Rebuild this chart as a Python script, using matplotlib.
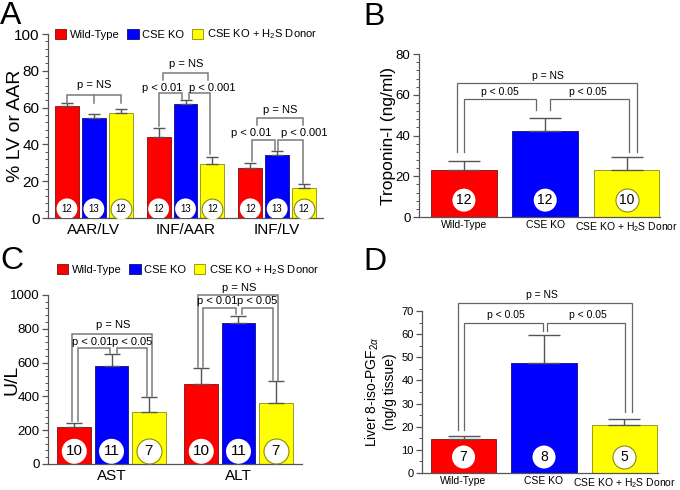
import matplotlib
matplotlib.use("Agg")
import matplotlib.pyplot as plt
from matplotlib.patches import Patch
from matplotlib.ticker import AutoMinorLocator, MultipleLocator
import numpy as np

plt.rcParams['font.family'] = ['Liberation Sans', 'DejaVu Sans']
plt.rcParams['mathtext.fontset'] = 'custom'
plt.rcParams['mathtext.rm'] = 'Liberation Sans'
plt.rcParams['mathtext.it'] = 'Liberation Sans:italic'

# ---------------- data ----------------
groups = ["Wild-Type", "CSE KO", "CSE KO + H$_2$S Donor"]

# Panel A
a_categories = ["AAR/LV", "INF/AAR", "INF/LV"]
a_wt = [61.1, 44.2, 27.0]
a_ko = [54.2, 62.0, 34.2]
a_donor = [57.2, 29.2, 16.1]
a_wt_err = [1.2, 5.0, 3.1]
a_ko_err = [2.1, 2.1, 2.2]
a_donor_err = [2.0, 4.1, 2.2]
a_n = [[12, 13, 12], [12, 13, 12], [12, 13, 12]]

# Panel B
b_values = [23.0, 42.4, 23.0]
b_err = [4.5, 6.1, 6.4]
b_n = [12, 12, 10]

# Panel C
c_categories = ["AST", "ALT"]
c_wt = [216, 474]
c_ko = [577, 833]
c_donor = [307, 358]
c_wt_err = [26, 93]
c_ko_err = [73, 45]
c_donor_err = [89, 130]
c_n = [[10, 11, 7], [10, 11, 7]]

# Panel D
d_values = [14.6, 47.6, 20.6]
d_err = [1.4, 12.0, 2.8]
d_n = [7, 8, 5]

colors = ["#FF0000", "#0000FF", "#FFFF00"]
edges = ["#7a1010", "#10107a", "#8a8a10"]
circ_edges = ["none", "none", "#8a8a10"]
err_col = "#555555"
br_col = "#7a7a7a"
spine_col = "#555555"

fig = plt.figure(figsize=(6.8, 4.9), dpi=100)


def style_axes(ax):
    for s in ("top", "right"):
        ax.spines[s].set_visible(False)
    for s in ("left", "bottom"):
        ax.spines[s].set_color(spine_col)
        ax.spines[s].set_linewidth(0.9)
    ax.tick_params(axis='x', length=0)
    ax.tick_params(axis='y', which='major', length=4, width=0.9, color=spine_col, pad=2)
    ax.tick_params(axis='y', which='minor', length=2.2, width=0.7, color=spine_col)


def bracket(ax, x1, x2, y, y1, y2, lw=1.1, col=br_col):
    ax.plot([x1, x1, x2, x2], [y1, y, y, y2], color=col, lw=lw, clip_on=False,
            solid_joinstyle='miter', zorder=4)


def ptext(ax, x, y, s, fs):
    ax.text(x, y, s, ha='center', va='center', fontsize=fs, clip_on=False, zorder=5)


def circles(ax, xs, y, ns, size, fs):
    for i, (x, n) in enumerate(zip(xs, ns)):
        ax.scatter([x], [y], s=size, c='white', edgecolors=circ_edges[i % 3],
                   linewidths=0.8, zorder=6)
        ax.text(x, y, str(n), ha='center', va='center', fontsize=fs, zorder=7)


# ---------------- Panel A ----------------
axA = fig.add_axes([0.0706, 0.555, 0.4044, 0.3755])
xa = np.arange(len(a_categories))
off, w = 0.293, 0.26
series_a = [(a_wt, a_wt_err), (a_ko, a_ko_err), (a_donor, a_donor_err)]
for i, (vals, errs) in enumerate(series_a):
    xs = xa + (i - 1) * off
    axA.bar(xs, vals, w, color=colors[i], edgecolor=edges[i], linewidth=0.6, zorder=2)
    axA.errorbar(xs, vals, yerr=[np.zeros(len(vals)), errs], fmt='none',
                 ecolor=err_col, elinewidth=1.0, capsize=4.3, capthick=1.0, zorder=3)
for g in range(len(a_categories)):
    circles(axA, [g - off, g, g + off], 5, a_n[g], 225, 7)
axA.set_xlim(-0.5, 2.5)
axA.set_ylim(0, 100)
axA.yaxis.set_major_locator(MultipleLocator(20))
axA.yaxis.set_minor_locator(AutoMinorLocator(5))
axA.set_xticks(xa)
axA.set_xticklabels(a_categories, fontsize=11)
axA.tick_params(axis='y', labelsize=11)
axA.set_ylabel("% LV or AAR", fontsize=14)
axA.yaxis.set_label_coords(-0.087, 0.5)
style_axes(axA)
# brackets A
bracket(axA, -0.293, 0.293, 66.8, 62.7, 62.5)
axA.plot([0, 0], [66.8, 62.3], color=br_col, lw=1.1, zorder=4)
ptext(axA, 0, 72.3, "p = NS", 8)
bracket(axA, 1 - 0.293, 1 - 0.033, 67.8, 50.3, 64.6)
bracket(axA, 1 + 0.043, 1 + 0.27, 67.8, 64.6, 34.6)
bracket(axA, 1 - 0.25, 1 + 0.25, 79.0, 75.0, 75.0)
ptext(axA, 1 - 0.25, 70.8, "p < 0.01", 8)
ptext(axA, 1 + 0.29, 70.8, "p < 0.001", 8)
ptext(axA, 1.01, 83.7, "p = NS", 8)
bracket(axA, 2 - 0.27, 2 - 0.02, 42.4, 31.2, 37.2)
bracket(axA, 2 + 0.01, 2 + 0.283, 42.4, 37.2, 19.3)
bracket(axA, 2 - 0.217, 2 + 0.283, 54.2, 50.5, 50.5)
ptext(axA, 2 - 0.28, 46.3, "p < 0.01", 8)
ptext(axA, 2 + 0.29, 46.3, "p < 0.001", 8)
ptext(axA, 2.03, 58.7, "p = NS", 8)
handles = [Patch(facecolor=colors[i], edgecolor=edges[i], linewidth=0.6) for i in range(3)]
axA.legend(handles, groups, ncol=3, loc='upper left', bbox_to_anchor=(0.025, 1.035),
           frameon=False, fontsize=8, handlelength=1.0, handleheight=1.0,
           handletextpad=0.35, columnspacing=0.7, borderaxespad=0, borderpad=0)

# ---------------- Panel B ----------------
axB = fig.add_axes([0.616, 0.557, 0.3544, 0.3327])
xb = np.arange(3)
axB.bar(xb, b_values, 0.81, color=colors, edgecolor=edges, linewidth=0.6, zorder=2)
axB.errorbar(xb, b_values, yerr=[np.zeros(3), b_err], fmt='none', ecolor=err_col,
             elinewidth=1.0, capsize=11.5, capthick=1.0, zorder=3)
circles(axB, xb, 8.3, b_n, 275, 10)
axB.set_xlim(-0.554, 2.41)
axB.set_ylim(0, 80)
axB.yaxis.set_major_locator(MultipleLocator(20))
axB.yaxis.set_minor_locator(AutoMinorLocator(5))
axB.set_xticks(xb)
axB.set_xticklabels(groups, fontsize=7.5)
axB.tick_params(axis='x', pad=2)
axB.tick_params(axis='y', labelsize=9.5)
axB.set_ylabel("Troponin-I (ng/ml)", fontsize=12.5)
axB.yaxis.set_label_coords(-0.095, 0.5)
style_axes(axB)
bracket(axB, -0.086, 2.13, 65.8, 32, 32, lw=0.9, col="#666666")
bracket(axB, 0.0, 0.886, 58, 32, 52.5, lw=0.9, col="#666666")
bracket(axB, 1.06, 2.03, 58, 52.5, 32, lw=0.9, col="#666666")
ptext(axB, 1.03, 69.2, "p = NS", 7.5)
ptext(axB, 0.44, 61.5, "p < 0.05", 7.5)
ptext(axB, 1.53, 61.5, "p < 0.05", 7.5)

# ---------------- Panel C ----------------
axC = fig.add_axes([0.0706, 0.0531, 0.3735, 0.345])
xc = np.arange(len(c_categories))
series_c = [(c_wt, c_wt_err), (c_ko, c_ko_err), (c_donor, c_donor_err)]
for i, (vals, errs) in enumerate(series_c):
    xs = xc + (i - 1) * off
    axC.bar(xs, vals, 0.265, color=colors[i], edgecolor=edges[i], linewidth=0.6, zorder=2)
    axC.errorbar(xs, vals, yerr=[np.zeros(len(vals)), errs], fmt='none',
                 ecolor=err_col, elinewidth=1.0, capsize=6, capthick=1.0, zorder=3)
for g in range(len(c_categories)):
    circles(axC, [g - off, g, g + off], 75, c_n[g], 324, 11)
axC.set_xlim(-0.5, 1.5)
axC.set_ylim(0, 1000)
axC.yaxis.set_major_locator(MultipleLocator(200))
axC.yaxis.set_minor_locator(AutoMinorLocator(5))
axC.set_xticks(xc)
axC.set_xticklabels(c_categories, fontsize=11)
axC.tick_params(axis='y', labelsize=9.5)
axC.set_ylabel("U/L", fontsize=14)
axC.yaxis.set_label_coords(-0.11, 0.5)
style_axes(axC)
bracket(axC, -0.309, 0.316, 768, 252, 402)
bracket(axC, -0.26, -0.012, 689, 252, 655)
bracket(axC, 0.043, 0.277, 689, 655, 402)
ptext(axC, 0.012, 823, "p = NS", 8)
ptext(axC, -0.15, 724, "p < 0.01", 8)
ptext(axC, 0.165, 724, "p < 0.05", 8)
bracket(axC, 1 - 0.316, 1 + 0.309, 1000, 575, 495)
bracket(axC, 1 - 0.277, 1 - 0.02, 921, 575, 886)
bracket(axC, 1 + 0.027, 1 + 0.27, 921, 886, 495)
ptext(axC, 1.004, 1043, "p = NS", 8)
ptext(axC, 1 - 0.17, 965, "p < 0.01", 8)
ptext(axC, 1 + 0.145, 965, "p < 0.05", 8)
axC.legend(handles, groups, ncol=3, loc='upper left', bbox_to_anchor=(0.035, 1.19),
           frameon=False, fontsize=8, handlelength=1.0, handleheight=1.0,
           handletextpad=0.35, columnspacing=0.7, borderaxespad=0, borderpad=0)

# ---------------- Panel D ----------------
axD = fig.add_axes([0.6206, 0.0347, 0.347, 0.3306])
xd = np.arange(3)
axD.bar(xd, d_values, 0.81, color=colors, edgecolor=edges, linewidth=0.6, zorder=2)
axD.errorbar(xd, d_values, yerr=[np.zeros(3), d_err], fmt='none', ecolor=err_col,
             elinewidth=1.0, capsize=11.5, capthick=1.0, zorder=3)
circles(axD, xd, 6.9, d_n, 275, 10)
axD.set_xlim(-0.516, 2.416)
axD.set_ylim(0, 70)
axD.yaxis.set_major_locator(MultipleLocator(10))
axD.yaxis.set_minor_locator(AutoMinorLocator(2))
axD.set_xticks(xd)
axD.set_xticklabels(groups, fontsize=7.5)
axD.tick_params(axis='x', pad=2)
axD.tick_params(axis='y', labelsize=8)
axD.set_ylabel("Liver 8-iso-PGF$_{2\\alpha}$\n(ng/g tissue)", fontsize=10)
axD.yaxis.set_label_coords(-0.105, 0.5)
style_axes(axD)
bracket(axD, -0.07, 2.09, 73.3, 18.5, 26.4, lw=0.9, col="#666666")
bracket(axD, 0.006, 0.99, 64.7, 18.5, 61.3, lw=0.9, col="#666666")
bracket(axD, 1.04, 2.01, 64.7, 61.3, 26.4, lw=0.9, col="#666666")
ptext(axD, 0.97, 76.9, "p = NS", 7.5)
ptext(axD, 0.52, 68.3, "p < 0.05", 7.5)
ptext(axD, 1.55, 68.3, "p < 0.05", 7.5)

# ---------------- panel letters ----------------
for lab, x, y in [("A", 0.0, 0.998), ("B", 0.535, 0.995), ("C", 0.0, 0.497), ("D", 0.535, 0.495)]:
    fig.text(x, y, lab, fontsize=23, ha='left', va='top')

fig.savefig("out.png", dpi=100)
